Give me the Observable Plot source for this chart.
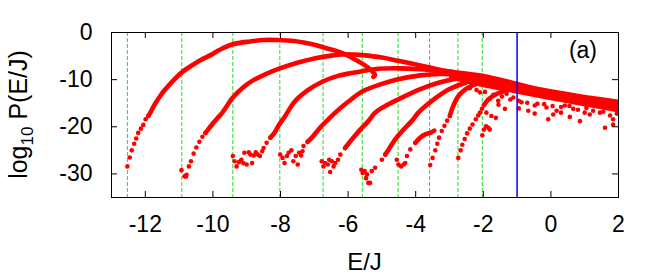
<!DOCTYPE html>
<html><head><meta charset="utf-8">
<script src="https://cdn.jsdelivr.net/npm/d3@7"></script>
<script src="https://cdn.jsdelivr.net/npm/@observablehq/plot@0.6"></script>
<style>body{margin:0;background:#fff;}</style>
</head><body><div id="chart"></div>
<script>
// ---- axes / reference lines ----
const xTicks = [-12, -10, -8, -6, -4, -2, 0, 2];
const yTicks = [0, -10, -20, -30];
const greenLines = [-12.53, -10.92, -9.41, -8.02, -6.74, -5.58, -4.52, -3.59, -2.75, -2.03];
const blueLine = [-1];

// ---- curves: sparse dotted starts and dense (thick) parts ----
const dots1 = [[-12.53,-28.4],[-12.46,-26.5],[-12.40,-25.0],[-12.33,-23.6],[-12.27,-22.5],[-12.21,-21.3],[-12.13,-20.4],[-12.06,-19.6],[-11.99,-18.4],[-11.91,-17.7]];
const line1 = [[-11.91,-17.7],[-11.85,-17.0],[-11.75,-15.6],[-11.6,-13.9],[-11.45,-12.4],[-11.2,-10.4],[-10.91,-8.4],[-10.6,-6.9],[-10.37,-5.9],[-10.07,-4.8],[-9.78,-3.6],[-9.41,-2.5],[-8.9,-1.9],[-8.5,-1.6],[-8.1,-1.6],[-7.6,-1.8],[-7.2,-2.3],[-6.75,-3.1],[-6.4,-3.8],[-6.13,-4.5],[-5.85,-5.5],[-5.58,-6.6],[-5.4,-7.5],[-5.26,-8.4],[-5.2,-9.0],[-5.25,-9.4]];
const dots2 = [[-10.93,-29.2],[-10.84,-30.5],[-10.80,-30.6],[-10.78,-30.2],[-10.71,-28.4],[-10.65,-27.3],[-10.57,-25.7],[-10.49,-24.4],[-10.40,-23.2],[-10.31,-22.1],[-10.22,-21.3]];
const line2 = [[-10.22,-21.3],[-10.10,-20.2],[-9.98,-19.1],[-9.83,-17.9],[-9.72,-17.0],[-9.41,-13.8],[-9.1,-11.6],[-8.8,-10.1],[-8.4,-8.7],[-8.02,-7.6],[-7.5,-6.4],[-7.0,-5.5],[-6.5,-4.9],[-6.0,-4.6],[-5.58,-4.8],[-5.0,-5.3],[-4.52,-6.0],[-3.86,-7.0],[-3.3,-7.9],[-2.9,-8.4]];
const dots3 = [[-9.41,-26.2],[-9.36,-27.3],[-9.30,-28.4],[-9.23,-27.5],[-9.16,-27.0],[-9.10,-27.7],[-9.07,-25.5],[-9.00,-28.0],[-8.94,-25.4],[-8.89,-25.9],[-8.84,-27.7],[-8.79,-26.1],[-8.73,-25.4],[-8.67,-25.9],[-8.61,-26.2],[-8.54,-25.2],[-8.50,-24.5],[-8.41,-23.4],[-8.30,-22.3]];
const line3 = [[-8.30,-22.3],[-8.18,-21.3],[-8.06,-19.8],[-7.86,-17.7],[-7.57,-14.6],[-7.2,-12.3],[-6.75,-10.4],[-6.3,-9.2],[-5.9,-8.6],[-5.58,-8.2],[-5.1,-7.7],[-4.52,-7.6],[-3.86,-7.8],[-3.3,-8.2],[-2.9,-8.6]];
const dots4 = [[-8.01,-25.9],[-7.94,-26.6],[-7.88,-27.7],[-7.81,-26.2],[-7.76,-25.5],[-7.68,-25.0],[-7.62,-27.3],[-7.55,-26.2],[-7.49,-28.0],[-7.45,-25.5],[-7.39,-26.1],[-7.35,-25.2],[-7.32,-24.1],[-7.2,-23.2]];
const line4 = [[-7.2,-23.2],[-7.07,-22.3],[-6.83,-20.2],[-6.58,-18.4],[-6.38,-17.0],[-6.0,-14.7],[-5.58,-12.5],[-5.0,-10.9],[-4.52,-9.9],[-3.86,-9.1],[-3.3,-8.8],[-2.8,-8.9]];
const dots5 = [[-6.78,-27.3],[-6.73,-28.4],[-6.68,-27.7],[-6.60,-28.0],[-6.56,-27.0],[-6.53,-29.6],[-6.48,-27.3],[-6.43,-28.4],[-6.38,-27.7],[-6.30,-27.0],[-6.23,-25.9],[-6.09,-24.5]];
const line5 = [[-6.09,-24.5],[-5.89,-22.7],[-5.64,-20.6],[-5.40,-18.8],[-5.20,-17.0],[-4.9,-15.6],[-4.52,-14.2],[-3.86,-12.0],[-3.3,-10.6],[-2.8,-9.8]];
const dots6 = [[-5.61,-29.1],[-5.57,-29.8],[-5.51,-29.4],[-5.47,-30.9],[-5.44,-30.1],[-5.40,-31.9],[-5.35,-31.9],[-5.30,-29.4],[-5.20,-28.7],[-5.0,-27.0],[-4.90,-25.9]];
const line6 = [[-4.90,-25.9],[-4.80,-24.8],[-4.61,-22.7],[-4.36,-20.6],[-4.12,-18.8],[-3.92,-17.0],[-3.5,-14.4],[-3.0,-12.0],[-2.5,-10.6]];
const dots7 = [[-4.56,-27.0],[-4.51,-28.0],[-4.43,-28.4],[-4.36,-28.0],[-4.31,-27.7],[-4.26,-26.2],[-4.16,-24.8],[-4.01,-23.4]];
const line7 = [[-4.01,-23.4],[-3.87,-22.3],[-3.72,-21.6],[-3.57,-21.3],[-3.45,-20.8]];
const dots8 = [[-3.57,-28.1],[-3.50,-26.6],[-3.42,-25.0],[-3.36,-23.6],[-3.31,-22.3],[-3.23,-20.9],[-3.15,-19.8],[-3.07,-18.7],[-2.99,-17.7]];
const line8 = [[-2.99,-17.7],[-2.9,-15.8],[-2.75,-13.6],[-2.5,-11.9],[-2.2,-10.9],[-1.9,-10.4]];
const dots9 = [[-2.74,-26.6],[-2.67,-25.0],[-2.62,-23.8],[-2.55,-22.6],[-2.48,-21.4],[-2.40,-20.4],[-2.32,-19.5],[-2.22,-18.4],[-2.15,-17.6],[-2.10,-17.0],[-2.04,-16.2],[-1.98,-15.4]];
const line9 = [[-1.98,-15.4],[-1.85,-14.2],[-1.65,-13.2],[-1.4,-12.5]];
const dots10 = [[-2.03,-21.8],[-1.98,-20.6],[-1.92,-19.9],[-1.85,-20.2],[-1.81,-20.6]];

// ---- high-energy tail: dense band and scattered points below it ----
const tailX  = [-3.0, -2.5, -2.0, -1.5, -1.0, -0.5, 0.0, 0.5, 1.0, 1.5, 2.0];
const tailHi = [-7.9, -8.3, -8.8, -9.6, -10.5, -11.4, -12.1, -12.7, -13.3, -13.8, -14.3];
const tailLo = [-9.8, -10.9, -11.7, -12.4, -13.1, -13.8, -14.5, -15.1, -15.8, -16.4, -17.1];
const scatter = [[-2.1,-12.7],[-1.81,-14.1],[-1.56,-14.5],[-1.31,-13.0],[-1.36,-16.2],[-1.11,-13.8],[-0.87,-14.8],[-0.67,-16.6],[-0.48,-15.5],[-0.13,-15.9],[0.17,-16.6],[0.41,-15.5],[0.66,-16.2],[1.05,-16.0],[1.45,-17.0],[-1.91,-17.0],[-1.76,-17.7],[-1.63,-18.1],[-0.48,-17.2],[-0.08,-18.4],[0.07,-17.4],[0.56,-17.9],[0.86,-18.8],[1.15,-17.4],[1.60,-20.2],[1.84,-19.5],[1.84,-18.4],
  [-2.4,-11.8],[-2.2,-12.2],[-1.95,-12.6],[-1.7,-13.2],[-1.45,-13.6],[-1.2,-14.2],[-0.95,-14.5],[-0.7,-14.9],[-0.4,-15.1],[-0.2,-15.2],[0.05,-15.6],[0.3,-15.8],[0.55,-15.6],[0.8,-16.4],[1.0,-17.0],[1.25,-16.6],[1.55,-16.8],[1.75,-17.6],[1.95,-17.2],[-1.55,-15.3],[-0.95,-16.1],[0.3,-17.0]];

const tail = tailX.map((x, i) => ({x, hi: tailHi[i], lo: tailLo[i]}));
const lines = [line1, line2, line3, line4, line5, line6, line7, line8, line9];
const dotsets = [dots1, dots2, dots3, dots4, dots5, dots6, dots7, dots8, dots9, dots10, scatter];

const W = 664, H = 280, mL = 111, mR = 46, mT = 32, mB = 83;
const pw = W - mL - mR, ph = H - mT - mB;
const RED = "#ff0000";
const FONT = "'Liberation Sans', Arial, Helvetica, sans-serif";

const chart = Plot.plot({
  width: W, height: H,
  marginLeft: mL, marginRight: mR, marginTop: mT, marginBottom: mB,
  style: {fontFamily: FONT, background: "white", color: "black"},
  x: {domain: [-13, 2]},
  y: {domain: [-35, 0]},
  marks: [
    Plot.ruleX(greenLines, {x: d => d, stroke: "#22e022", strokeWidth: 1, strokeDasharray: "4,2"}),
    Plot.areaY(tail, {x: "x", y1: "lo", y2: "hi", fill: RED}),
    ...lines.map(l => Plot.line(l, {x: d => d[0], y: d => d[1], stroke: RED, strokeWidth: 4.6, curve: "catmull-rom", strokeLinecap: "round"})),
    ...dotsets.map(s => Plot.dot(s, {x: d => d[0], y: d => d[1], r: 2.3, fill: RED, stroke: "none"})),
    Plot.ruleX(blueLine, {x: d => d, stroke: "#0000ff", strokeWidth: 1.5}),
    Plot.frame({stroke: "black", strokeWidth: 1}),
    Plot.ruleX(xTicks, {x: d => d, insetTop: ph - 6, stroke: "black"}),
    Plot.ruleX(xTicks, {x: d => d, insetBottom: ph - 6, stroke: "black"}),
    Plot.ruleY(yTicks, {y: d => d, insetRight: pw - 6, stroke: "black"}),
    Plot.ruleY(yTicks, {y: d => d, insetLeft: pw - 6, stroke: "black"}),
    Plot.axisX({ticks: xTicks, tickSize: 0, tickPadding: 18, fontSize: 23, label: null, tickFormat: d => String(d)}),
    Plot.axisY({ticks: yTicks, tickSize: 0, tickPadding: 19, fontSize: 23, label: null, tickFormat: d => String(d)})
  ]
});
document.getElementById("chart").appendChild(chart);

const svg = d3.select(chart);
svg.append("text").attr("x", 597).attr("y", 58).attr("text-anchor", "end")
  .attr("font-size", 23).attr("font-family", FONT).attr("fill", "black").text("(a)");
svg.append("text").attr("x", mL + pw / 2).attr("y", 270).attr("text-anchor", "middle")
  .attr("font-size", 24).attr("font-family", FONT).attr("fill", "black").text("E/J");
const yl = svg.append("text").attr("transform", `translate(27,${mT + ph / 2}) rotate(-90)`)
  .attr("text-anchor", "middle").attr("font-size", 25).attr("font-family", FONT).attr("fill", "black");
yl.append("tspan").text("log");
yl.append("tspan").attr("font-size", 17).attr("dy", 6).text("10");
yl.append("tspan").attr("dy", -6).text(" P(E/J)");
</script>
</body></html>
